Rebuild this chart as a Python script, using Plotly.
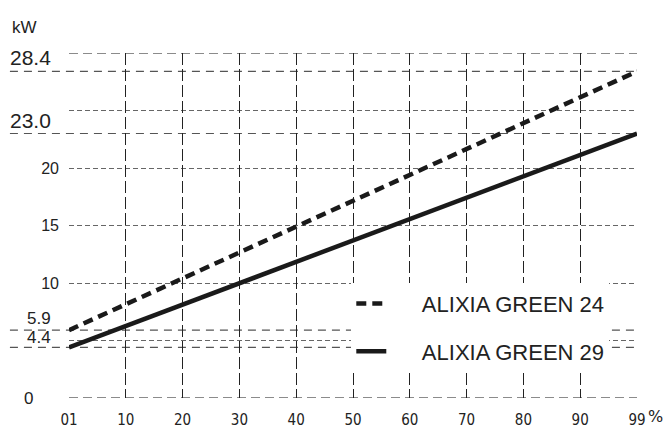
import plotly.graph_objects as go

# x categories (load %) and the two boiler series
load_labels = ["01", "10", "20", "30", "40", "50", "60", "70", "80", "90", "99"]
series_x = ["01", "99"]
green24_kw = [5.9, 28.4]
green29_kw = [4.4, 23.0]

# marked values on the y axis
marked_kw = [28.4, 23.0, 5.9, 4.4]
marked_text = ["28.4", "23.0", "5.9", "4.4"]
marked_size = [21, 21, 17, 17]
marked_shift = [0, 0, 0, -2]

y_ticks = [10, 15, 20]
y_grid = [5, 10, 15, 20, 25]

pad = "\u00a0" * 5

fig = go.Figure()

fig.add_scatter(
    x=series_x,
    y=green24_kw,
    mode="lines",
    name=pad + "ALIXIA GREEN 24",
    legendgroup="a",
    line=dict(color="#1a1a1a", width=4.5, dash="10px,6px"),
    cliponaxis=False,
)

fig.add_scatter(
    x=series_x,
    y=green29_kw,
    mode="lines",
    name=pad + "ALIXIA GREEN 29",
    legendgroup="b",
    line=dict(color="#1a1a1a", width=4.5),
    cliponaxis=False,
)

shapes = []
# extended reference lines for the marked values
for v in marked_kw:
    shapes.append(dict(
        type="line", xref="paper", yref="y",
        x0=-0.104, x1=1, y0=v, y1=v,
        line=dict(color="#555", width=1.2, dash="8px,6px"),
        layer="below",
    ))
# top and bottom borders
for v in [0, 30]:
    shapes.append(dict(
        type="line", xref="paper", yref="y",
        x0=0, x1=1, y0=v, y1=v,
        line=dict(color="#666", width=1.6, dash="9px,5px"),
        layer="below",
    ))

annotations = []
for v, t, s, sh in zip(marked_kw, marked_text, marked_size, marked_shift):
    annotations.append(dict(
        x=-0.028, xref="paper", y=v, yref="y",
        text=t, showarrow=False,
        xanchor="right", yanchor="bottom", yshift=sh,
        font=dict(family="Liberation Sans", size=s, color="#222"),
    ))
annotations.append(dict(
    x=-0.072, xref="paper", y=0, yref="y",
    text="0", showarrow=False, xanchor="center", yanchor="middle",
    font=dict(family="Liberation Sans", size=17, color="#222"),
))
annotations.append(dict(
    x=-0.0775, xref="paper", y=1.0746, yref="paper",
    text="kW", showarrow=False, xanchor="center", yanchor="middle",
    font=dict(family="Liberation Sans", size=17, color="#222"),
))
annotations.append(dict(
    x=1.033, xref="paper", y=-0.053, yref="paper",
    text="%", showarrow=False, xanchor="center", yanchor="middle",
    font=dict(family="DejaVu Sans", size=16, color="#222"),
))

fig.update_layout(
    width=656,
    height=433,
    margin=dict(l=61, r=27, t=45, b=30),
    plot_bgcolor="white",
    paper_bgcolor="white",
    showlegend=True,
    legend=dict(
        x=0.497, y=0.334, xanchor="left", yanchor="top",
        bgcolor="white",
        font=dict(family="Liberation Sans", size=22, color="#222"),
        tracegroupgap=16,
    ),
    shapes=shapes,
    annotations=annotations,
)

fig.update_xaxes(
    type="category",
    categoryorder="array",
    categoryarray=load_labels,
    range=[0, 10],
    showgrid=True,
    gridcolor="#222",
    gridwidth=1.2,
    griddash="12px,4px",
    showline=False,
    zeroline=False,
    ticks="",
    ticklabelstandoff=11,
    tickfont=dict(family="DejaVu Sans Condensed", size=15, color="#222"),
)

fig.update_yaxes(
    range=[0, 30],
    tickvals=y_ticks,
    ticktext=[str(v) for v in y_ticks],
    showgrid=False,
    zeroline=False,
    showline=False,
    ticks="",
    ticklabelstandoff=9,
    tickfont=dict(family="Liberation Sans", size=16, color="#222"),
    minor=dict(
        tickvals=y_grid,
        showgrid=True,
        gridcolor="#666",
        gridwidth=1.2,
        griddash="5px,3px",
    ),
)

fig.write_html("out.html")
